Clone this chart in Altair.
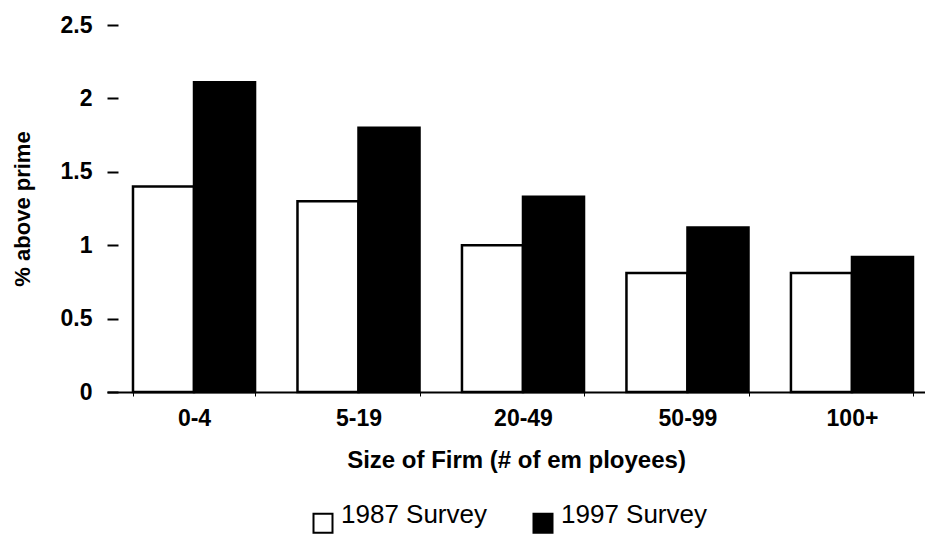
import altair as alt
import pandas as pd

categories = ["0-4", "5-19", "20-49", "50-99", "100+"]
surveys = ["1987 Survey", "1997 Survey"]
values_1987 = [1.40, 1.30, 1.00, 0.81, 0.81]
values_1997 = [2.11, 1.80, 1.33, 1.12, 0.92]
y_ticks = [0, 0.5, 1, 1.5, 2, 2.5]

rows = []
for c, a, b in zip(categories, values_1987, values_1997):
    rows.append({"size": c, "survey": surveys[0], "value": a})
    rows.append({"size": c, "survey": surveys[1], "value": b})
df = pd.DataFrame(rows)

FONT = "Liberation Sans"

chart = alt.Chart(df).mark_bar(stroke="black", strokeWidth=2.5).encode(
    x=alt.X(
        "size:N",
        sort=categories,
        scale=alt.Scale(paddingInner=0.258, paddingOuter=0.1155, align=0.684),
        axis=alt.Axis(
            title="Size of Firm (# of em ployees)",
            labelAngle=0,
            labelFont=FONT,
            labelFontSize=23,
            labelFontWeight="bold",
            labelColor="black",
            labelPadding=11,
            tickBand="extent",
            tickSize=4,
            tickColor="black",
            tickWidth=1,
            domainColor="black",
            domainWidth=2,
            titleFont=FONT,
            titleFontSize=24,
            titleFontWeight="bold",
            titleColor="black",
            titlePadding=18,
        ),
    ),
    xOffset=alt.XOffset("survey:N", sort=surveys),
    y=alt.Y(
        "value:Q",
        scale=alt.Scale(domain=[0, 2.5], nice=False),
        axis=alt.Axis(
            title="% above prime",
            values=y_ticks,
            labelExpr="'' + datum.value",
            offset=-11,
            domain=False,
            grid=False,
            tickSize=11,
            tickColor="black",
            tickWidth=2,
            labelFont=FONT,
            labelFontSize=23,
            labelFontWeight="bold",
            labelColor="black",
            labelPadding=15,
            titleFont=FONT,
            titleFontSize=22,
            titleFontWeight="bold",
            titleColor="black",
            titlePadding=26,
        ),
    ),
    fill=alt.Fill(
        "survey:N",
        sort=surveys,
        scale=alt.Scale(domain=surveys, range=["white", "black"]),
        legend=alt.Legend(
            title=None,
            orient="none",
            direction="horizontal",
            legendX=203,
            legendY=485,
            symbolType="square",
            symbolSize=361,
            symbolStrokeColor="black",
            symbolStrokeWidth=2,
            labelFont=FONT,
            labelFontSize=26,
            labelColor="black",
            labelBaseline="alphabetic",
            labelOffset=5,
            columnPadding=42,
            padding=0,
        ),
    ),
).properties(
    width=818,
    height=367,
    autosize=alt.AutoSizeParams(type="none"),
    padding={"left": 107, "top": 25, "right": 0, "bottom": 142},
).configure(
    background="white",
    view=alt.ViewConfig(stroke="transparent", strokeWidth=0),
)

chart.save("out.html", embed_options={"renderer": "svg", "actions": False})
